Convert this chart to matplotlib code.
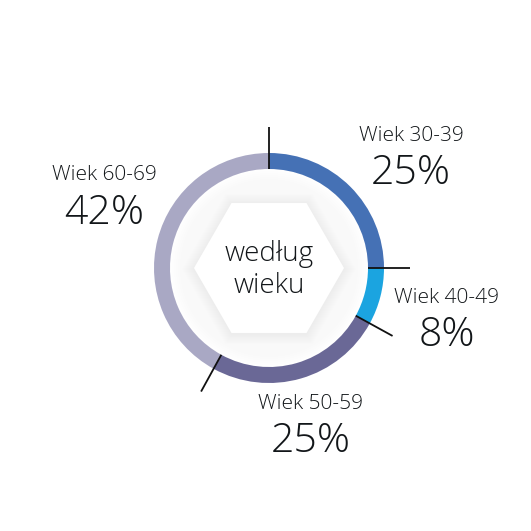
import matplotlib

matplotlib.use("Agg")
import matplotlib.pyplot as plt
import numpy as np
from matplotlib.patches import Wedge, Circle, RegularPolygon

INK = "#121619"
FONT = "Open Sans"
WEIGHT = 300

groups = ["Wiek 30-39", "Wiek 40-49", "Wiek 50-59", "Wiek 60-69"]
shares = [25, 8, 25, 42]
colors = ["#4571b5", "#1ba4e0", "#6a6896", "#a9a8c4"]
center_text = "według\nwieku"

CX, CY = 269, 263
R_OUT, R_IN = 115, 99
R_TICK = 141

# label anchor positions (pixel coords, y up), per group
label_pos = [(411, 395), (447, 233), (311, 127), (104, 356)]

fig = plt.figure(figsize=(5.31, 5.31), dpi=100)
ax = fig.add_axes([0, 0, 1, 1])
ax.set_xlim(0, 531)
ax.set_ylim(0, 531)
ax.set_aspect("equal")
ax.axis("off")

# ring
start = 90.0
bounds = []
for share, color in zip(shares, colors):
    sweep = share / sum(shares) * 360
    ax.add_patch(Wedge((CX, CY), R_OUT, start - sweep, start, width=R_OUT - R_IN,
                       facecolor=color, edgecolor="none"))
    bounds.append(start)
    start -= sweep

# very soft shadow inside the ring and around the hexagon
for i in range(6):
    ax.add_patch(Circle((CX, CY), R_IN - i * 2, facecolor="#000000", alpha=0.005,
                        edgecolor="none"))
for i in range(12):
    ax.add_patch(RegularPolygon((CX, CY - 1), 6, radius=75 + 12 - i, orientation=np.pi / 6,
                                facecolor="#000000", alpha=0.0035, edgecolor="none"))
ax.add_patch(RegularPolygon((CX, CY), 6, radius=75, orientation=np.pi / 6,
                            facecolor="white", edgecolor="none"))

# divider ticks
for ang in bounds:
    a = np.radians(ang)
    ax.plot([CX + R_IN * np.cos(a), CX + R_TICK * np.cos(a)],
            [CY + R_IN * np.sin(a), CY + R_TICK * np.sin(a)],
            color="#111111", linewidth=1.3, solid_capstyle="butt")

ax.text(CX, CY - 2, center_text, ha="center", va="center", fontsize=20, color=INK,
        family=FONT, fontweight=WEIGHT, linespacing=1.2)

for name, share, (x, y) in zip(groups, shares, label_pos):
    ax.text(x, y, name, ha="center", va="center", fontsize=15, color=INK,
            family=FONT, fontweight=WEIGHT)
    ax.text(x, y - 38, f"{share}%", ha="center", va="center", fontsize=29.5, color=INK,
            family=FONT, fontweight=WEIGHT)

fig.savefig("out.png", dpi=100, facecolor="white")
